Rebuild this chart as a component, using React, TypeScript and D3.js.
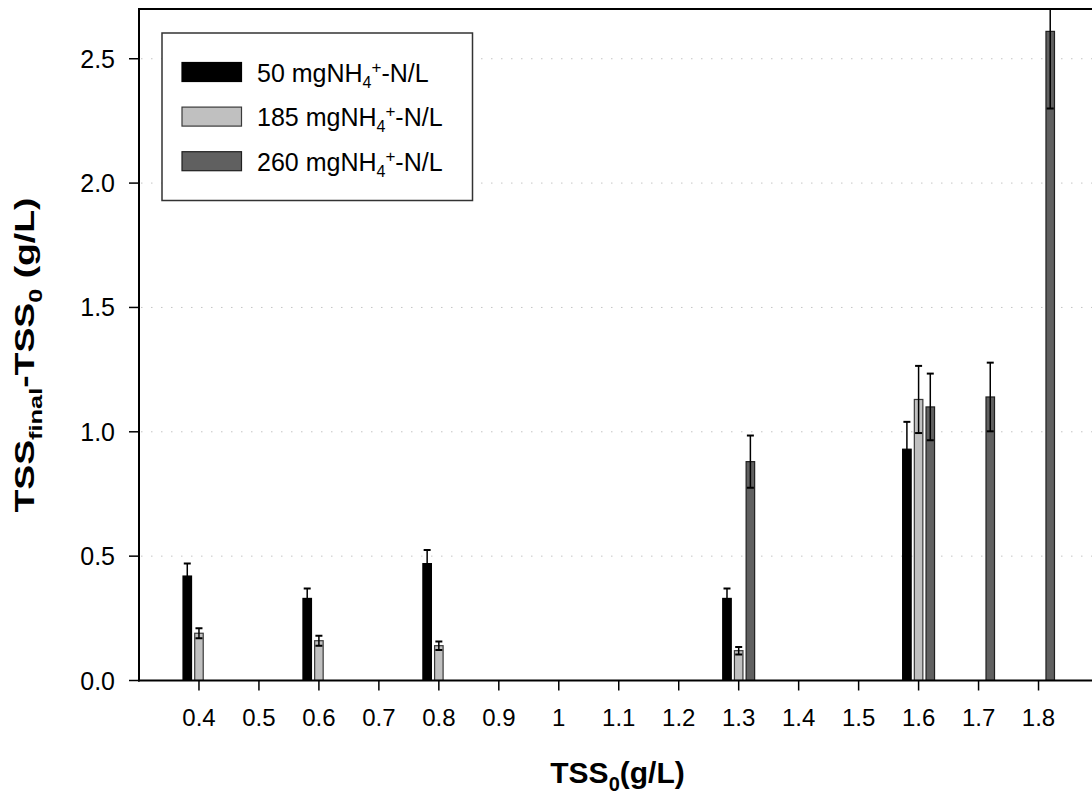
import React from 'react';
import * as d3 from 'd3';

const categories = [0.4, 0.6, 0.8, 1.3, 1.6, 1.7, 1.8];
const tickValues = [0.4, 0.5, 0.6, 0.7, 0.8, 0.9, 1.0, 1.1, 1.2, 1.3, 1.4, 1.5, 1.6, 1.7, 1.8];
const tickLabels = ['0.4', '0.5', '0.6', '0.7', '0.8', '0.9', '1', '1.1', '1.2', '1.3', '1.4', '1.5', '1.6', '1.7', '1.8'];
const yTicks = [0, 0.5, 1.0, 1.5, 2.0, 2.5];
const yTickLabels = ['0.0', '0.5', '1.0', '1.5', '2.0', '2.5'];
const gridValues = [0.5, 1.0, 1.5, 2.0, 2.5];

const seriesNames = ['50', '185', '260'];
const seriesFill = ['#000000', '#c0c0c0', '#606060'];
const seriesStroke = ['#000000', '#3a3a3a', '#202020'];
const s50 = [0.42, 0.33, 0.47, 0.33, 0.93, null, null];
const s50err = [0.05, 0.04, 0.055, 0.04, 0.11, null, null];
const s185 = [0.19, 0.16, 0.14, 0.12, 1.13, null, null];
const s185err = [0.02, 0.02, 0.017, 0.015, 0.135, null, null];
const s260 = [null, null, null, 0.88, 1.10, 1.14, 2.61];
const s260err = [null, null, null, 0.105, 0.134, 0.138, 0.31];
const seriesValues = [s50, s185, s260];
const seriesErrors = [s50err, s185err, s260err];
const seriesOffsets = [-0.0195, 0, 0.0195];
const barWidthUnits = 0.0142;

const FONT = 'Liberation Sans, Arial, Helvetica, sans-serif';

export default function App() {
  const W = 1092, H = 800;
  const left = 139, top = 9, bottom = 680.5;
  const x = d3.scaleLinear().domain([0.3, 1.9]).range([left, 1098.5]);
  const y = d3.scaleLinear().domain([0, 2.7]).range([bottom, top]);
  const bw = x(0.3 + barWidthUnits) - x(0.3);
  const capW = 7;

  return (
    <svg width={W} height={H} style={{ position: 'absolute', left: 0, top: 0, background: '#fff' }} fontFamily={FONT}>
      <defs>
        <clipPath id="plotclip">
          <rect x={left} y={top} width={1100 - left} height={bottom - top} />
        </clipPath>
      </defs>
      <rect x={0} y={0} width={W} height={H} fill="#fff" />
      {/* grid */}
      {gridValues.map((g) => (
        <line key={'g' + g} x1={left + 2} x2={W} y1={y(g)} y2={y(g)} stroke="#c4c4c4" strokeWidth={1} strokeDasharray="1.5,8.5" />
      ))}
      {/* legend */}
      <rect x={162} y={33} width={310.5} height={167.5} fill="#fff" stroke="#333" strokeWidth={1.5} />
      {seriesNames.map((n, i) => {
        const ry = 62.5 + i * 44.6;
        return (
          <g key={'l' + n}>
            <rect x={182} y={ry} width={59.5} height={19} fill={seriesFill[i]} stroke={seriesStroke[i]} strokeWidth={1.2} />
            <text x={257} y={ry + 19} fontSize={25} fill="#000">
              {n + ' mgNH'}
              <tspan fontSize={16} dy={6}>4</tspan>
              <tspan fontSize={17} dy={-15}>+</tspan>
              <tspan fontSize={25} dy={9}>-N/L</tspan>
            </text>
          </g>
        );
      })}
      {/* bars */}
      <g clipPath="url(#plotclip)">
        {seriesValues.map((vals, si) =>
          vals.map((v, ci) => {
            if (v == null) return null;
            const cx = x(categories[ci] + seriesOffsets[si]);
            return (
              <rect key={'b' + si + '-' + ci} x={cx - bw / 2} y={y(v)} width={bw} height={y(0) - y(v)}
                fill={seriesFill[si]} stroke={seriesStroke[si]} strokeWidth={1.2} />
            );
          })
        )}
        {seriesValues.map((vals, si) =>
          vals.map((v, ci) => {
            const e = seriesErrors[si][ci];
            if (v == null || e == null) return null;
            const cx = x(categories[ci] + seriesOffsets[si]);
            const y1 = y(v + e), y2 = y(v - e);
            return (
              <g key={'e' + si + '-' + ci} stroke="#000">
                <line x1={cx} x2={cx} y1={y1} y2={y2} strokeWidth={1.5} />
                <line x1={cx - capW / 2} x2={cx + capW / 2} y1={y1} y2={y1} strokeWidth={2} />
                <line x1={cx - capW / 2} x2={cx + capW / 2} y1={y2} y2={y2} strokeWidth={2} />
              </g>
            );
          })
        )}
      </g>
      {/* axes */}
      <line x1={left} x2={W} y1={top} y2={top} stroke="#000" strokeWidth={2} />
      <line x1={left} x2={left} y1={top - 1} y2={bottom + 1} stroke="#000" strokeWidth={2} />
      <line x1={left - 1} x2={W} y1={bottom} y2={bottom} stroke="#000" strokeWidth={2} />
      {yTicks.map((t, i) => (
        <g key={'yt' + t}>
          <line x1={left - 10} x2={left} y1={y(t)} y2={y(t)} stroke="#000" strokeWidth={1.5} />
          <text x={115} y={y(t) + 9} fontSize={25} textAnchor="end" fill="#000">{yTickLabels[i]}</text>
        </g>
      ))}
      {tickValues.map((t, i) => (
        <g key={'xt' + t}>
          <line x1={x(t)} x2={x(t)} y1={bottom} y2={bottom + 10} stroke="#000" strokeWidth={1.5} />
          <text x={x(t)} y={726} fontSize={24} textAnchor="middle" fill="#000">{tickLabels[i]}</text>
        </g>
      ))}
      {/* axis titles */}
      <text x={617.5} y={783} fontSize={30} fontWeight="bold" textAnchor="middle" fill="#000">
        TSS<tspan fontSize={20} dy={8}>0</tspan><tspan dy={-8}>(g/L)</tspan>
      </text>
      <text transform="translate(34,355) rotate(-90)" x={0} y={0} fontSize={28} fontWeight="bold" textAnchor="middle" fill="#000"
        textLength={315} lengthAdjust="spacingAndGlyphs">
        TSS<tspan fontSize={19} dy={8}>final</tspan><tspan dy={-8}>-TSS</tspan><tspan fontSize={19} dy={8}>0</tspan><tspan dy={-8}> (g/L)</tspan>
      </text>
    </svg>
  );
}
